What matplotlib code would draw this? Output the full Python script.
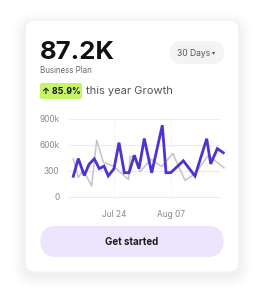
import numpy as np
import matplotlib
matplotlib.use("Agg")
import matplotlib.pyplot as plt
from matplotlib.patches import FancyBboxPatch

plt.rcParams['font.family'] = ['Inter', 'DejaVu Sans']

# ---- data ----
# days after Jul 14, values in thousands
days_main = [0.0, 1.23, 2.70, 3.86, 5.16, 6.39, 7.54, 8.60, 10.0, 11.23, 12.53,
             13.69, 14.99, 16.14, 17.44, 19.26, 21.87, 22.78, 23.93, 27.03,
             29.90, 32.78, 33.76, 35.38, 36.86]
vals_main = [238, 442, 246, 376, 438, 326, 355, 242, 326, 625, 279,
             279, 480, 326, 672, 278, 825, 279, 279, 416,
             241, 670, 380, 556, 509]

days_prev = [0.0, 1.23, 2.46, 4.52, 5.75, 7.37, 9.83, 13.60, 13.93, 15.0,
             16.43, 19.05, 21.70, 24.45, 27.44, 29.90, 33.17, 37.03]
vals_prev = [440, 225, 307, 127, 652, 400, 355, 200, 465, 465,
             291, 435, 349, 500, 192, 265, 480, 335]

ytick_vals = [0, 300, 600, 900]
ytick_labels = ['0', '300', '600k', '900k']
xtick_days = [10, 24]
xtick_labels = ['Jul 24', 'Aug 07']

W, H = 264, 302
fig = plt.figure(figsize=(W / 100, H / 100), dpi=100)
fig.patch.set_facecolor('white')

# background / card layer in pixel coordinates
bg = fig.add_axes([0, 0, 1, 1])
bg.set_xlim(0, W)
bg.set_ylim(H, 0)
bg.axis('off')

# soft shadow
for i, a in enumerate([0.006, 0.008, 0.010, 0.012, 0.014]):
    grow = 12 - i * 2.5
    bg.add_patch(FancyBboxPatch((25 - grow, 20 - grow + 4), 214 + 2 * grow, 252 + 2 * grow,
                                boxstyle="round,pad=0,rounding_size=%f" % (10 + grow),
                                fc='black', ec='none', alpha=a))
bg.add_patch(FancyBboxPatch((25, 20), 214, 252, boxstyle="round,pad=0,rounding_size=10",
                            fc='white', ec='#f0f0f0', lw=0.6))

# header texts
bg.text(40, 59, '87.2K', fontsize=18.5, fontweight='bold', color='#111111', va='baseline', ha='left')
bg.text(40.5, 70.5, 'Business Plan', fontsize=5.7, color='#666666', va='center', ha='left')

# period pill
bg.add_patch(FancyBboxPatch((170, 41), 54, 23, boxstyle="round,pad=0,rounding_size=11.5",
                            fc='#f4f4f4', ec='none'))
bg.text(177, 53, '30 Days', fontsize=6.1, color='#555555', va='center', ha='left')
bg.text(214, 52.5, '\u25BE', fontsize=4.5, color='#555555', va='center', ha='center',
        family=['DejaVu Sans'])

# growth badge
bg.add_patch(FancyBboxPatch((40, 83), 42, 16, boxstyle="round,pad=0,rounding_size=2",
                            fc='#c5f566', ec='none'))
bg.text(61, 91.3, '\u2191 85.9%', fontsize=6.3, fontweight='bold', color='#111111',
        va='center', ha='center')
bg.text(86, 91, 'this year Growth', fontsize=8.0, color='#555555', va='center', ha='left')

# button
bg.add_patch(FancyBboxPatch((40.5, 226), 183, 31, boxstyle="round,pad=0,rounding_size=15.5",
                            fc='#ede5fd', ec='none'))
bg.text(132, 242, 'Get started', fontsize=7, fontweight='bold', color='#1a1a1a',
        va='center', ha='center')

# ---- chart ----
x_left, x_right = 69, 219
y_bot, y_top = 197, 118.7
ax = fig.add_axes([x_left / W, 1 - y_bot / H, (x_right - x_left) / W, (y_bot - y_top) / H])
ax.patch.set_alpha(0)
px_per_day = 4.07
d0 = 10 - (114 - x_left) / px_per_day
d1 = d0 + (x_right - x_left) / px_per_day
ax.set_xlim(d0, d1)
ax.set_ylim(0, 900)

for v in ytick_vals:
    ax.axhline(v, color='#ececec', lw=0.8, zorder=0, clip_on=False)
for d in xtick_days:
    ax.axvline(d, color='#ececec', lw=0.6, ls=(0, (2, 2)), zorder=0)

ax.plot(days_prev, vals_prev, color='#c4c4c4', lw=1.1, clip_on=False, zorder=2)
ax.plot(days_main, vals_main, color='#4d33d1', lw=2.0, clip_on=False, zorder=3,
        solid_joinstyle='miter')

ax.set_yticks(ytick_vals)
ax.set_yticklabels(ytick_labels)
ax.set_xticks(xtick_days)
ax.set_xticklabels(xtick_labels)
ax.tick_params(length=0, labelsize=6, colors='#888888')
ax.tick_params(axis='y', pad=7)
ax.tick_params(axis='x', pad=9.5)
for s in ax.spines.values():
    s.set_visible(False)

fig.savefig('out.png', dpi=100, facecolor='white')
